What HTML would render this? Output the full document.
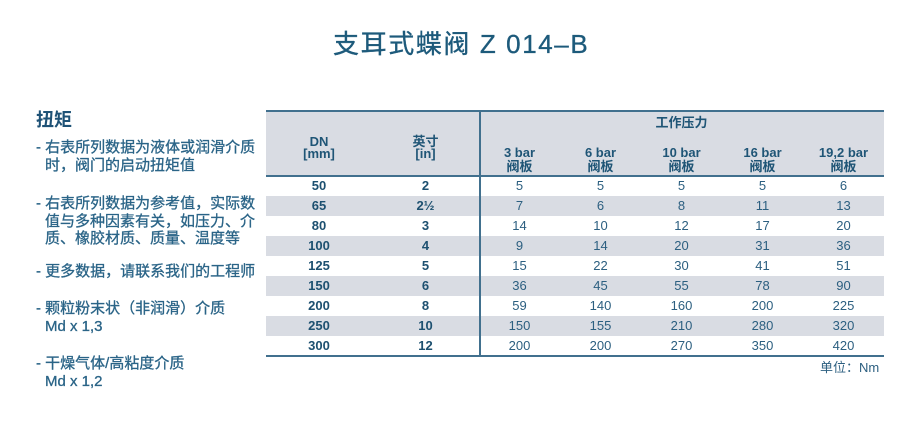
<!DOCTYPE html>
<html><head><meta charset="utf-8">
<style>
html,body{margin:0;padding:0;background:#fff;}
body{width:921px;height:429px;position:relative;overflow:hidden;font-family:"Liberation Sans","Noto Sans CJK SC",sans-serif;}
.a{position:absolute;white-space:nowrap;}
.title{left:333px;top:30px;font-size:26px;line-height:28px;color:#1d5a7b;letter-spacing:1.6px;-webkit-text-stroke:0.35px #1d5a7b;}
.h{left:36px;top:111px;font-size:18px;line-height:18px;font-weight:bold;color:#1e5276;}
.b{font-size:15px;line-height:17.5px;color:#2a6487;-webkit-text-stroke:0.3px #2a6487;}
.bg{position:absolute;background:#d9dce3;}
.ln{position:absolute;background:#41708e;}
.hd{position:absolute;text-align:center;font-size:13px;font-weight:bold;color:#1f5576;}
.row{position:absolute;left:266px;width:618px;height:20px;}
.c{position:absolute;top:0;height:20px;line-height:20px;text-align:center;font-size:13px;}
.k{font-weight:bold;color:#1d5070;}
.v{color:#2c5f80;}
</style></head><body>
<div class="a title">支耳式蝶阀 Z 014–B</div>

<div class="a h">扭矩</div>
<div class="a b" style="left:36px;top:139px;">- 右表所列数据为液体或润滑介质</div>
<div class="a b" style="left:45px;top:156.5px;">时，阀门的启动扭矩值</div>
<div class="a b" style="left:36px;top:195px;">- 右表所列数据为参考值，实际数</div>
<div class="a b" style="left:45px;top:212.5px;">值与多种因素有关，如压力、介</div>
<div class="a b" style="left:45px;top:230px;">质、橡胶材质、质量、温度等</div>
<div class="a b" style="left:36px;top:263px;">- 更多数据，请联系我们的工程师</div>
<div class="a b" style="left:36px;top:300px;">- 颗粒粉末状（非润滑）介质</div>
<div class="a b" style="left:45px;top:317.5px;">Md x 1,3</div>
<div class="a b" style="left:36px;top:355px;">- 干燥气体/高粘度介质</div>
<div class="a b" style="left:45px;top:372.5px;">Md x 1,2</div>

<!-- table header -->
<div class="bg" style="left:266px;top:111px;width:618px;height:65px;"></div>
<div class="hd" style="left:266px;width:106px;top:136px;line-height:12px;">DN<br>[mm]</div>
<div class="hd" style="left:372px;width:107px;top:136px;line-height:12px;">英寸<br>[in]</div>
<div class="hd" style="left:479px;width:405px;top:116px;line-height:14px;">工作压力</div>
<div class="hd" style="left:479px;width:81px;top:146px;line-height:14px;">3 bar<br>阀板</div>
<div class="hd" style="left:560px;width:81px;top:146px;line-height:14px;">6 bar<br>阀板</div>
<div class="hd" style="left:641px;width:81px;top:146px;line-height:14px;">10 bar<br>阀板</div>
<div class="hd" style="left:722px;width:81px;top:146px;line-height:14px;">16 bar<br>阀板</div>
<div class="hd" style="left:803px;width:81px;top:146px;line-height:14px;">19,2 bar<br>阀板</div>

<!-- rows -->
<div class="row" style="top:176px;"><div class="c k" style="left:0;width:106px">50</div><div class="c k" style="left:106px;width:107px">2</div><div class="c v" style="left:213px;width:81px">5</div><div class="c v" style="left:294px;width:81px">5</div><div class="c v" style="left:375px;width:81px">5</div><div class="c v" style="left:456px;width:81px">5</div><div class="c v" style="left:537px;width:81px">6</div></div>
<div class="row" style="top:196px;background:#d9dce3;"><div class="c k" style="left:0;width:106px">65</div><div class="c k" style="left:106px;width:107px">2½</div><div class="c v" style="left:213px;width:81px">7</div><div class="c v" style="left:294px;width:81px">6</div><div class="c v" style="left:375px;width:81px">8</div><div class="c v" style="left:456px;width:81px">11</div><div class="c v" style="left:537px;width:81px">13</div></div>
<div class="row" style="top:216px;"><div class="c k" style="left:0;width:106px">80</div><div class="c k" style="left:106px;width:107px">3</div><div class="c v" style="left:213px;width:81px">14</div><div class="c v" style="left:294px;width:81px">10</div><div class="c v" style="left:375px;width:81px">12</div><div class="c v" style="left:456px;width:81px">17</div><div class="c v" style="left:537px;width:81px">20</div></div>
<div class="row" style="top:236px;background:#d9dce3;"><div class="c k" style="left:0;width:106px">100</div><div class="c k" style="left:106px;width:107px">4</div><div class="c v" style="left:213px;width:81px">9</div><div class="c v" style="left:294px;width:81px">14</div><div class="c v" style="left:375px;width:81px">20</div><div class="c v" style="left:456px;width:81px">31</div><div class="c v" style="left:537px;width:81px">36</div></div>
<div class="row" style="top:256px;"><div class="c k" style="left:0;width:106px">125</div><div class="c k" style="left:106px;width:107px">5</div><div class="c v" style="left:213px;width:81px">15</div><div class="c v" style="left:294px;width:81px">22</div><div class="c v" style="left:375px;width:81px">30</div><div class="c v" style="left:456px;width:81px">41</div><div class="c v" style="left:537px;width:81px">51</div></div>
<div class="row" style="top:276px;background:#d9dce3;"><div class="c k" style="left:0;width:106px">150</div><div class="c k" style="left:106px;width:107px">6</div><div class="c v" style="left:213px;width:81px">36</div><div class="c v" style="left:294px;width:81px">45</div><div class="c v" style="left:375px;width:81px">55</div><div class="c v" style="left:456px;width:81px">78</div><div class="c v" style="left:537px;width:81px">90</div></div>
<div class="row" style="top:296px;"><div class="c k" style="left:0;width:106px">200</div><div class="c k" style="left:106px;width:107px">8</div><div class="c v" style="left:213px;width:81px">59</div><div class="c v" style="left:294px;width:81px">140</div><div class="c v" style="left:375px;width:81px">160</div><div class="c v" style="left:456px;width:81px">200</div><div class="c v" style="left:537px;width:81px">225</div></div>
<div class="row" style="top:316px;background:#d9dce3;"><div class="c k" style="left:0;width:106px">250</div><div class="c k" style="left:106px;width:107px">10</div><div class="c v" style="left:213px;width:81px">150</div><div class="c v" style="left:294px;width:81px">155</div><div class="c v" style="left:375px;width:81px">210</div><div class="c v" style="left:456px;width:81px">280</div><div class="c v" style="left:537px;width:81px">320</div></div>
<div class="row" style="top:336px;"><div class="c k" style="left:0;width:106px">300</div><div class="c k" style="left:106px;width:107px">12</div><div class="c v" style="left:213px;width:81px">200</div><div class="c v" style="left:294px;width:81px">200</div><div class="c v" style="left:375px;width:81px">270</div><div class="c v" style="left:456px;width:81px">350</div><div class="c v" style="left:537px;width:81px">420</div></div>

<!-- lines -->
<div class="ln" style="left:266px;top:110px;width:618px;height:2px;"></div>
<div class="ln" style="left:266px;top:175px;width:618px;height:2px;"></div>
<div class="ln" style="left:266px;top:355px;width:618px;height:2px;"></div>
<div class="ln" style="left:479px;top:110px;width:2px;height:247px;"></div>

<div class="a" style="left:820px;top:360px;font-size:13px;line-height:16px;color:#2c5f80;">单位：Nm</div>
</body></html>
